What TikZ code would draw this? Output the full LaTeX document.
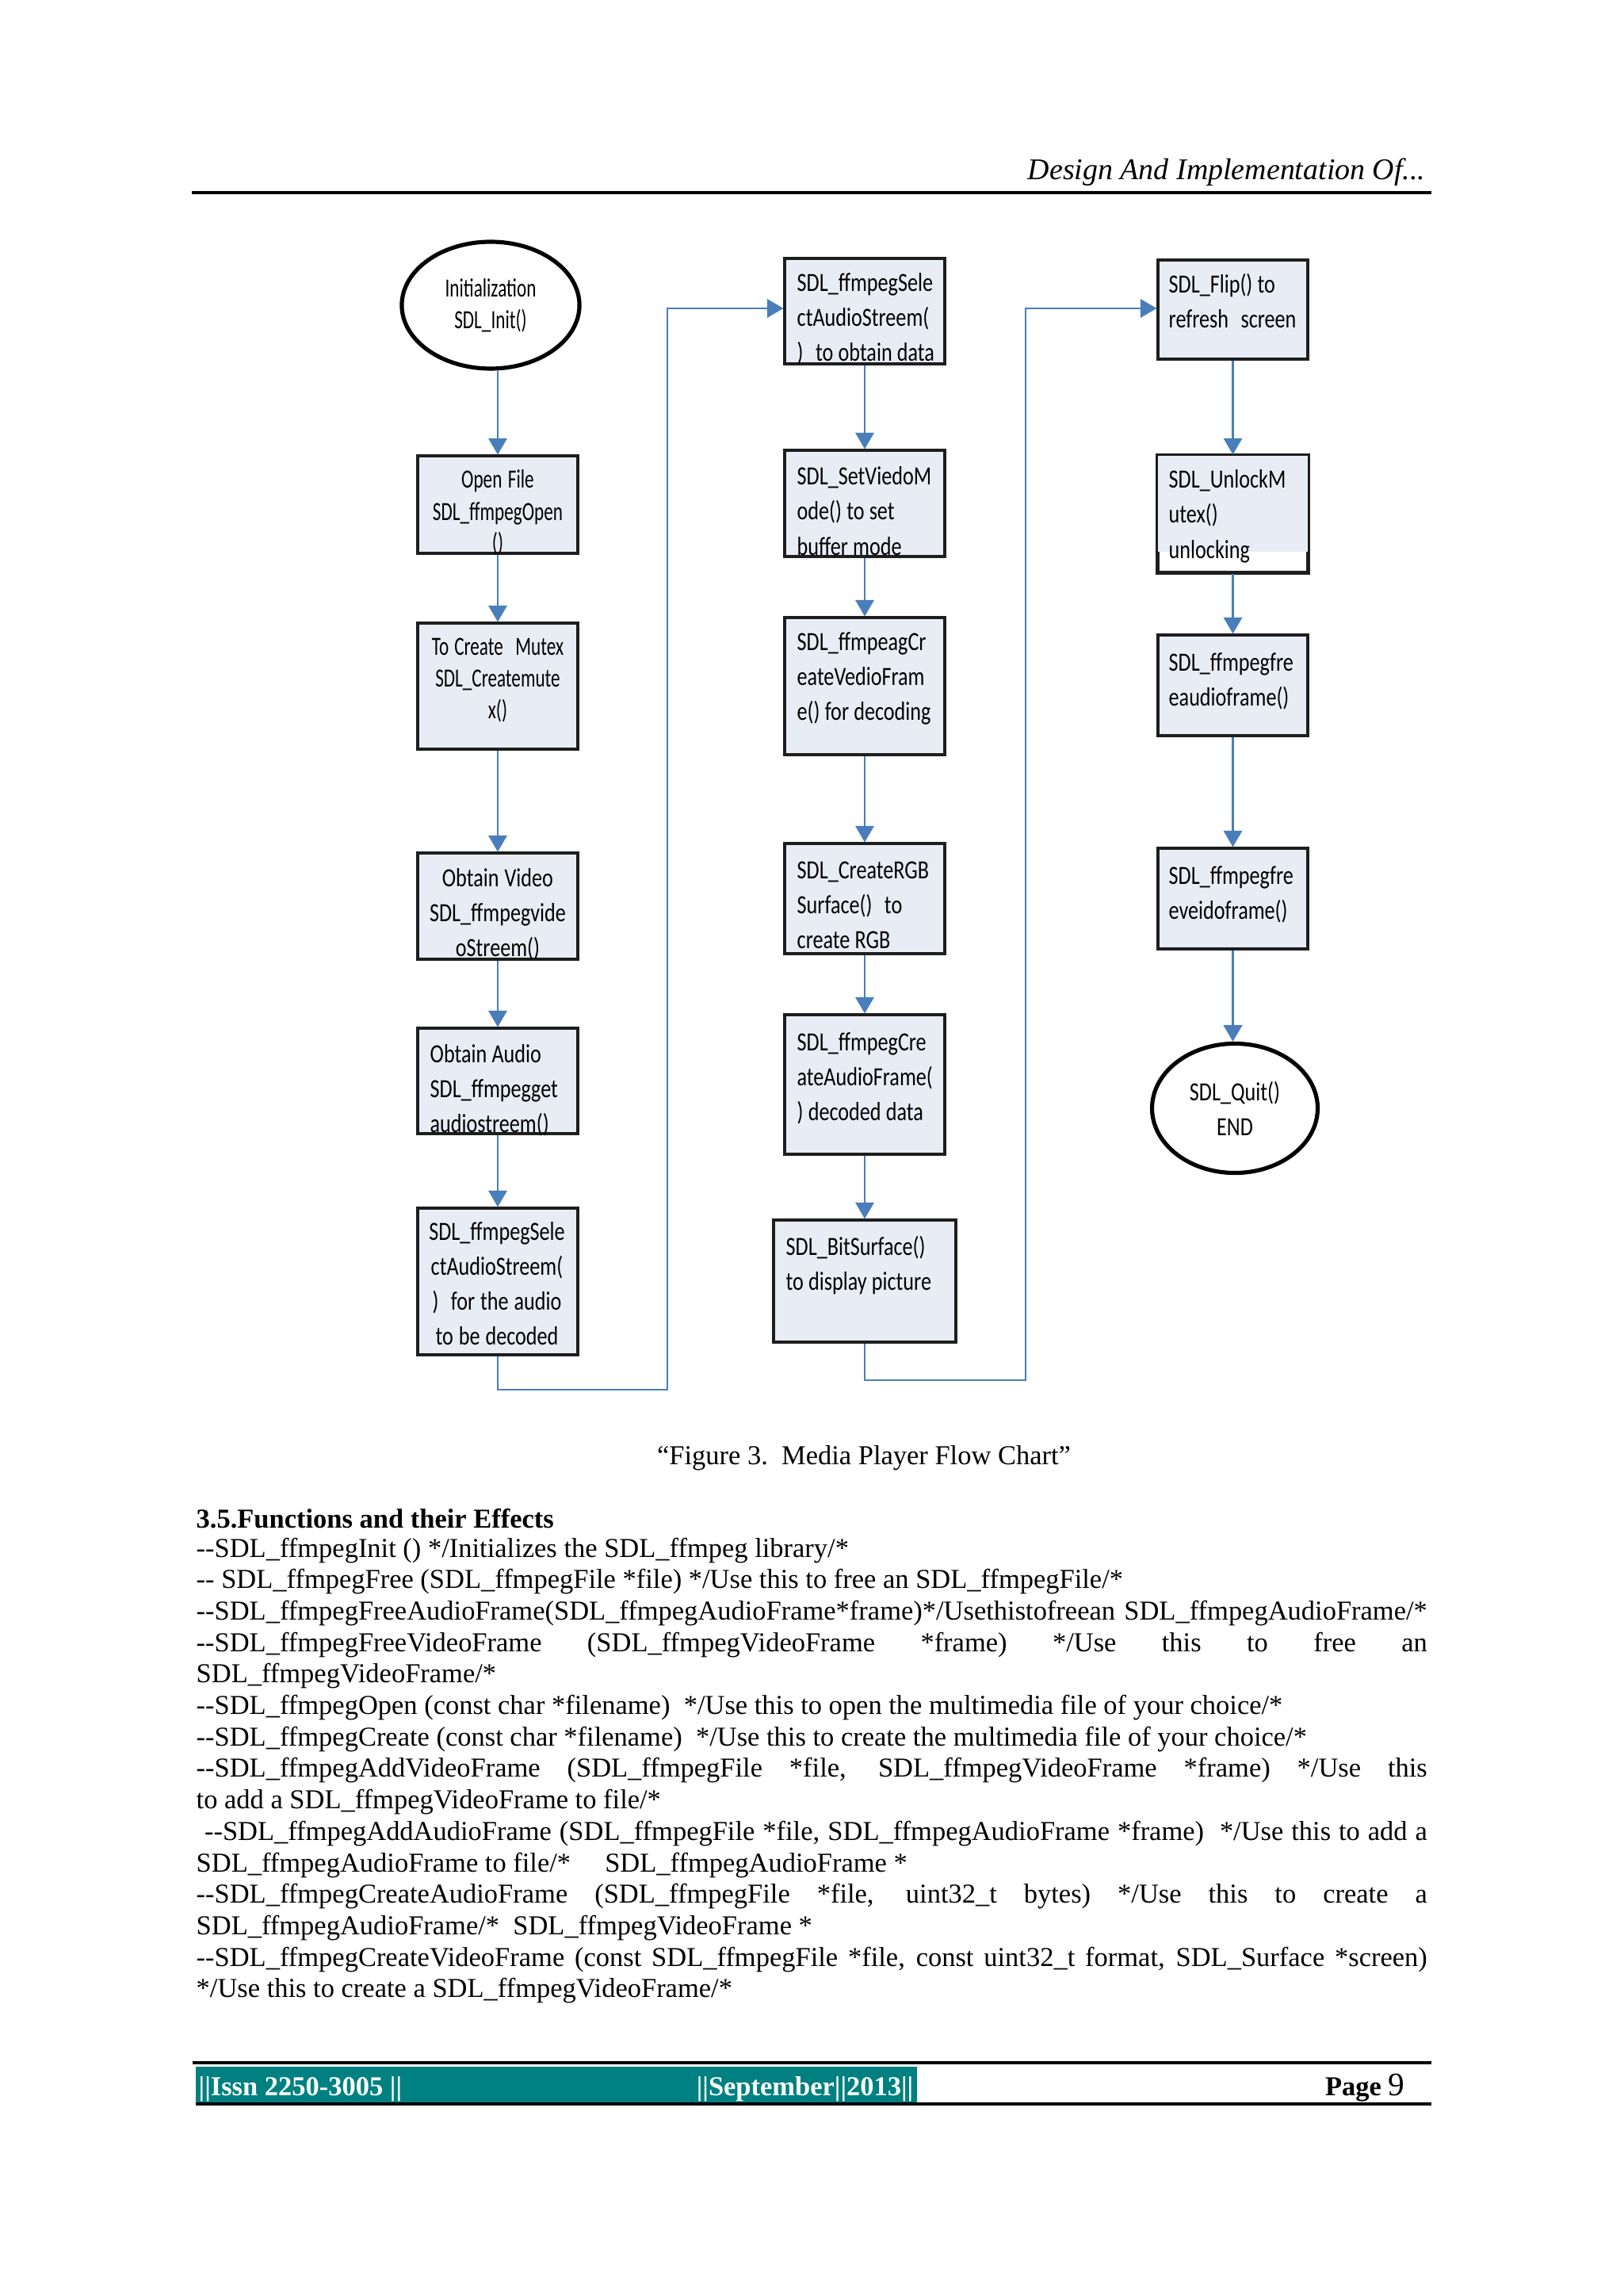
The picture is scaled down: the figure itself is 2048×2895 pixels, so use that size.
\documentclass[tikz,border=0pt]{standalone}
\usepackage{fontspec}
\setmainfont{Liberation Serif}
\newfontfamily\flowA[FakeStretch=0.79]{Carlito}
\newfontfamily\flowB[FakeStretch=0.70]{Carlito}
\usetikzlibrary{arrows.meta,shapes.geometric,fit}
\definecolor{flowblue}{RGB}{74,126,187}
\definecolor{boxfill}{RGB}{232,236,245}
\definecolor{boxline}{RGB}{30,30,30}
\definecolor{bandteal}{RGB}{0,128,128}
\newcommand{\JustLine}[1]{\makebox[450.4pt][s]{#1}}
\newcommand{\fsp}{\spaceskip=1.8pt plus 0.3pt\relax\xspaceskip=1.8pt\relax}
\newcommand{\dsp}{\hspace{4.5pt}}
\begin{document}
\begin{tikzpicture}[x=0.29pt,y=-0.29pt,
  box/.style={draw=boxline, line width=0.9pt, fill=boxfill, inner sep=0pt, rectangle},
  ell/.style={draw=black, line width=1.5pt, fill=white, ellipse, inner sep=0pt, align=center},
  ftA/.style={font=\flowA\fontsize{9.6}{12.76}\selectfont, inner sep=0pt, text width=75pt},
  ftB/.style={font=\flowB\fontsize{9.6}{11.6}\selectfont, inner sep=0pt, text width=75pt, align=center},
  arr/.style={draw=flowblue, line width=0.75pt, -{Triangle[width=6.8pt,length=6pt]}},
  body/.style={font=\fontsize{10}{11.5}\selectfont, inner sep=0pt, anchor=base west},
  rulel/.style={draw=black, line width=0.9pt}]
\useasboundingbox (0,0) rectangle (2048,2895);
\fill[white] (0,0) rectangle (2048,2895);

% header
\node[font=\fontsize{11}{13}\itshape\selectfont, anchor=base east, inner sep=0pt] (hdr) at (1799,227) {Design And Implementation Of...};
\draw[rulel] (242,243) -- (1806,243);

% ---- column 1
\node[ell, minimum width=65pt, minimum height=46.4pt, font=\flowB\fontsize{9.6}{11.6}\selectfont] (init) at (619,385) {Initialization\\SDL\_Init()};
\node[box, fit={(527,575)(729,698)}] (B1) {};
\node[box, fit={(527,786)(729,945)}] (B2) {};
\node[box, fit={(527,1076)(729,1210)}] (B3) {};
\node[box, fit={(527,1297)(729,1430)}] (B4) {};
\node[box, fit={(527,1524)(729,1709)}] (B5) {};
% ---- column 2
\node[box, fit={(990,326)(1192,459)}] (C1) {};
\node[box, fit={(990,568)(1192,702)}] (C2) {};
\node[box, fit={(990,779)(1192,952)}] (C3) {};
\node[box, fit={(990,1064)(1192,1203)}] (C4) {};
\node[box, fit={(990,1280)(1192,1456)}] (C5) {};
\node[box, fit={(976,1539)(1206,1693)}] (C6) {};
% ---- column 3
\node[box, fit={(1461,328)(1650,453)}] (D1) {};
\node[box, fill=white, fit={(1461,575)(1650,722)}] (D2) {};
\coordinate (d2f) at (1650,696);
\fill[boxfill] (D2.north west) rectangle (d2f);
\draw[draw=boxline, line width=0.9pt] (D2.north west) rectangle (D2.south east);
\node[box, fit={(1461,801)(1650,928)}] (D3) {};
\node[box, fit={(1461,1070)(1650,1197)}] (D4) {};
\node[ell, minimum width=60.6pt, minimum height=47.3pt, font=\flowA\fontsize{9.6}{12.76}\selectfont] (end) at (1558,1398) {SDL\_Quit()\\END};

% texts
\node[ftB, anchor=base] (B1t) at (628,616) {\fsp Open File\\SDL\_ffmpegOpen\\()};
\node[ftB, anchor=base] (B2t) at (628,826) {\fsp To Create\dsp Mutex\\SDL\_Createmute\\x()};
\node[ftA, align=center, anchor=base] (B3t) at (628,1118) {\fsp Obtain Video\\SDL\_ffmpegvide\\oStreem()};
\node[ftA, align=left, anchor=base west] (B4t) at (542,1340) {\fsp Obtain Audio\\SDL\_ffmpegget\\audiostreem()};
\node[ftA, align=center, anchor=base] (B5t) at (627,1564) {\fsp SDL\_ffmpegSele\\ctAudioStreem(\\)\dsp for the audio\\to be decoded};

\node[ftA, align=left, anchor=base west] (C1t) at (1005,368) {\fsp SDL\_ffmpegSele\\ctAudioStreem(\\)\dsp to obtain data};
\node[ftA, align=left, anchor=base west] (C2t) at (1005,612) {\fsp SDL\_SetViedoM\\ode() to set\\buffer mode};
\node[ftA, align=left, anchor=base west] (C3t) at (1005,820) {\fsp SDL\_ffmpeagCr\\eateVedioFram\\e() for decoding};
\node[ftA, align=left, anchor=base west] (C4t) at (1005,1108) {\fsp SDL\_CreateRGB\\Surface()\dsp to\\create RGB};
\node[ftA, align=left, anchor=base west] (C5t) at (1005,1325) {\fsp SDL\_ffmpegCre\\ateAudioFrame(\\) decoded data};
\node[ftA, align=left, anchor=base west] (C6t) at (991,1583) {\fsp SDL\_BitSurface()\\to display picture};

\node[ftA, align=left, anchor=base west] (D1t) at (1474,370) {\fsp SDL\_Flip() to\\refresh\dsp screen};
\node[ftA, align=left, anchor=base west] (D2t) at (1474,616) {\fsp SDL\_UnlockM\\utex()\\unlocking};
\node[ftA, align=left, anchor=base west] (D3t) at (1474,846) {\fsp SDL\_ffmpegfre\\eaudioframe()};
\node[ftA, align=left, anchor=base west] (D4t) at (1474,1115) {\fsp SDL\_ffmpegfre\\eveidoframe()};

% connectors
\draw[arr] (B1.north |- init.south) -- (B1.north);
\draw[arr] (B1.south) -- (B2.north);
\draw[arr] (B2.south) -- (B3.north);
\draw[arr] (B3.south) -- (B4.north);
\draw[arr] (B4.south) -- (B5.north);
\coordinate (j1) at (842,1753);
\coordinate (j2) at (842,389);
\draw[arr] (B5.south) |- (j1) -- (j2) -- (j2 -| C1.west);
\draw[arr] (C1.south) -- (C2.north);
\draw[arr] (C2.south) -- (C3.north);
\draw[arr] (C3.south) -- (C4.north);
\draw[arr] (C4.south) -- (C5.north);
\draw[arr] (C5.south) -- (C6.north);
\coordinate (k1) at (1294,1741);
\coordinate (k2) at (1294,389);
\draw[arr] (C6.south) |- (k1) -- (k2) -- (k2 -| D1.west);
\draw[arr] (D1.south) -- (D2.north);
\draw[arr] (D2.south) -- (D3.north);
\draw[arr] (D3.south) -- (D4.north);
\draw[arr] (D4.south) -- (D4.south |- end.north);

% caption and body
\node[font=\fontsize{10}{12}\selectfont, anchor=base, inner sep=0pt] (cap) at (1090,1847) {“Figure 3.\ \ Media Player Flow Chart”};
\node[body, font=\fontsize{10}{12}\bfseries\selectfont] (h35) at (247,1927) {3.5.Functions and their Effects};
\node[body] (l1) at (247,1964) {-{}-SDL\_ffmpegInit () */Initializes the SDL\_ffmpeg library/*};
\node[body] (l2) at (247,2003.7) {-{}- SDL\_ffmpegFree (SDL\_ffmpegFile *file) */Use this to free an SDL\_ffmpegFile/*};
\node[body] (l3) at (247,2043.4) {\JustLine{-{}-SDL\_ffmpegFreeAudioFrame(SDL\_ffmpegAudioFrame*frame)*/Usethistofreean SDL\_ffmpegAudioFrame/*}};
\node[body] (l4) at (247,2083.1) {\JustLine{-{}-SDL\_ffmpegFreeVideoFrame (SDL\_ffmpegVideoFrame *frame) */Use this to free an}};
\node[body] (l5) at (247,2122.8) {SDL\_ffmpegVideoFrame/*};
\node[body] (l6) at (247,2162.5) {-{}-SDL\_ffmpegOpen (const char *filename)\ \ */Use this to open the multimedia file of your choice/*};
\node[body] (l7) at (247,2202.2) {-{}-SDL\_ffmpegCreate (const char *filename)\ \ */Use this to create the multimedia file of your choice/*};
\node[body] (l8) at (247,2241.9) {\JustLine{-{}-SDL\_ffmpegAddVideoFrame (SDL\_ffmpegFile *file, SDL\_ffmpegVideoFrame *frame) */Use this}};
\node[body] (l9) at (247,2281.6) {to add a SDL\_ffmpegVideoFrame to file/*};
\node[body] (l10) at (247,2321.3) {\JustLine{\hspace*{3pt}-{}-SDL\_ffmpegAddAudioFrame (SDL\_ffmpegFile *file, SDL\_ffmpegAudioFrame *frame)\ \ */Use this to add a}};
\node[body] (l11) at (247,2361) {SDL\_ffmpegAudioFrame to file/*\ \ \ \ \ SDL\_ffmpegAudioFrame *};
\node[body] (l12) at (247,2400.7) {\JustLine{-{}-SDL\_ffmpegCreateAudioFrame (SDL\_ffmpegFile *file, uint32\_t bytes) */Use this to create a}};
\node[body] (l13) at (247,2440.4) {SDL\_ffmpegAudioFrame/*\ \ SDL\_ffmpegVideoFrame *};
\node[body] (l14) at (247,2480.1) {\JustLine{-{}-SDL\_ffmpegCreateVideoFrame (const SDL\_ffmpegFile *file, const uint32\_t format, SDL\_Surface *screen)}};
\node[body] (l15) at (247,2519.8) {*/Use this to create a SDL\_ffmpegVideoFrame/*};

% footer
\draw[rulel] (243,2602) -- (1806,2602);
\fill[bandteal] (247,2607) rectangle (1157,2652);
\draw[rulel] (247,2654) -- (1806,2654);
\node[anchor=base west, inner sep=0pt, text=white, font=\fontsize{10}{12}\bfseries\selectfont] (issn) at (250,2643) {||Issn 2250-3005 ||};
\node[anchor=base east, inner sep=0pt, text=white, font=\fontsize{10}{12}\bfseries\selectfont] (sept) at (1153,2643) {||September||2013||};
\node[anchor=base east, inner sep=0pt, font=\fontsize{10}{12}\selectfont] (page) at (1773,2643) {\textbf{Page} {\fontsize{12}{14}\selectfont 9}};
\end{tikzpicture}
\end{document}
